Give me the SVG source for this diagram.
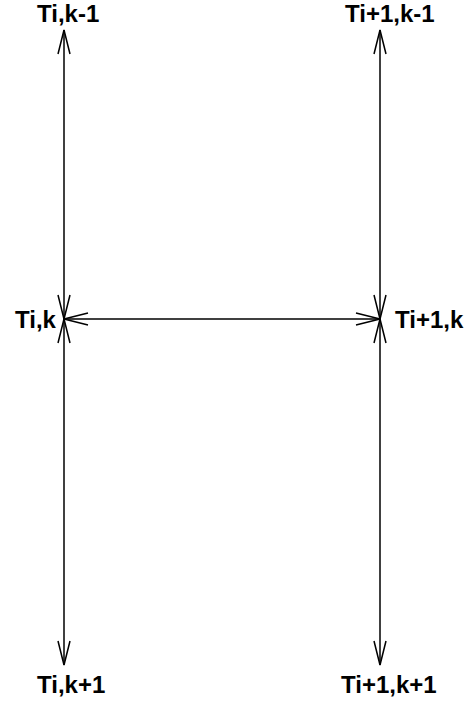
<svg xmlns="http://www.w3.org/2000/svg" width="474" height="703" viewBox="0 0 474 703">
<style>
.lbl{font-family:"Liberation Sans",Arial,sans-serif;font-weight:bold;font-size:24px;fill:#000}
.ln{stroke:#000;stroke-width:1.5;fill:none}
</style>
<defs>
<marker id="a" markerUnits="userSpaceOnUse" viewBox="-26 -8 28 16" refX="0" refY="0" markerWidth="28" markerHeight="16" orient="auto-start-reverse" overflow="visible">
<path d="M-24,-6 L0,0 L-24,6" fill="none" stroke="#000" stroke-width="1.5"/>
</marker>
</defs>
<rect width="474" height="703" fill="#fff"/>
<g id="connectors">
<line class="ln" x1="64" y1="30" x2="64" y2="319" marker-start="url(#a)" marker-end="url(#a)"/>
<line class="ln" x1="64" y1="319" x2="64" y2="665" marker-start="url(#a)" marker-end="url(#a)"/>
<line class="ln" x1="380" y1="30" x2="380" y2="319" marker-start="url(#a)" marker-end="url(#a)"/>
<line class="ln" x1="380" y1="319" x2="380" y2="665" marker-start="url(#a)" marker-end="url(#a)"/>
<line class="ln" x1="64" y1="319" x2="380" y2="319" marker-start="url(#a)" marker-end="url(#a)"/>
</g>
<g id="n1"><text class="lbl" x="37" y="22">Ti,k-1</text></g>
<g id="n2"><text class="lbl" x="345" y="22">Ti+1,k-1</text></g>
<g id="n3"><text class="lbl" x="15" y="328">Ti,k</text></g>
<g id="n4"><text class="lbl" x="395" y="328">Ti+1,k</text></g>
<g id="n5"><text class="lbl" x="37" y="693">Ti,k+1</text></g>
<g id="n6"><text class="lbl" x="341" y="693">Ti+1,k+1</text></g>
</svg>
